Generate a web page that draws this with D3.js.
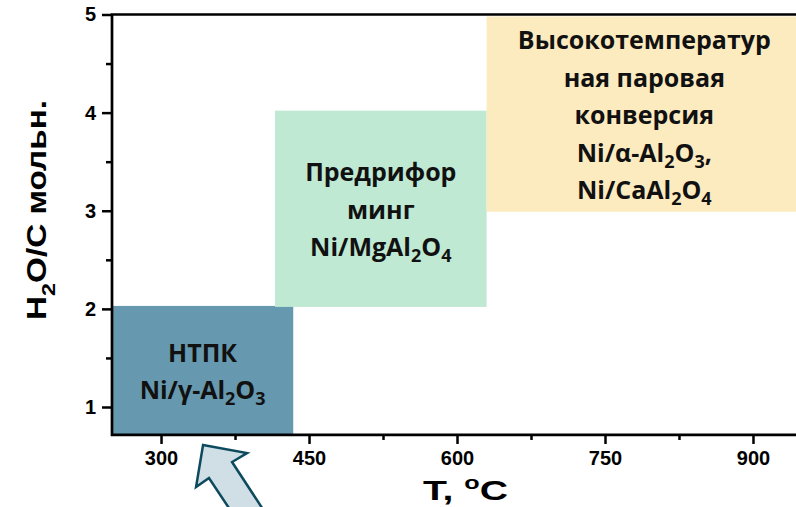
<!DOCTYPE html>
<html>
<head>
<meta charset="utf-8">
<script src="https://cdn.jsdelivr.net/npm/d3@7"></script>
<style>
  body { margin: 0; background: #fff; }
  svg { display: block; }
</style>
</head>
<body>
<div id="grafico"></div>
<script>
// Области процессов: T (°C) и H2O/C (мольн.)
const nomes   = ["НТПК", "Предриформинг", "ВТПК"];
const t_min   = [250.3, 415.5, 630];
const t_max   = [434, 630, 943.6];
const r_min   = [0.715, 2.02, 2.99];
const r_max   = [2.03, 4.02, 4.98];
const cores   = ["#6699AF", "#BFE9D2", "#FDEBC0"];
// подписи, "_" = нижний индекс
const rotulos = [
  ["НТПК", "Ni/γ-Al_2O_3"],
  ["Предрифор", "минг", "Ni/MgAl_2O_4"],
  ["Высокотемператур", "ная паровая", "конверсия", "Ni/α-Al_2O_3,", "Ni/CaAl_2O_4"]
];

// Деления осей
const ticks_x = [300, 450, 600, 750, 900];
const minor_x = [375, 525, 675, 825];
const ticks_y = [1, 2, 3, 4, 5];
const minor_y = [1.5, 2.5, 3.5, 4.5];

// Стрелка (в координатах графика)
const seta_t = [342.6, 387.2, 372.0, 410.5, 377.0, 348.6, 335.5];
const seta_r = [0.612, 0.531, 0.439, -0.153, -0.153, 0.276, 0.184];

const W = 796, H = 507;

const svg = d3.select("#grafico").append("svg")
  .attr("width", W)
  .attr("height", H);

// Escalas
const x = d3.scaleLinear().domain([250.3, 943.6]).range([112, 796]);
const y = d3.scaleLinear().domain([1, 5]).range([407, 14.5]);
const y_base = y(0.715);

// Retângulos
nomes.forEach((n, i) => {
  svg.append("rect")
    .attr("x", x(t_min[i]))
    .attr("y", y(r_max[i]))
    .attr("width", x(t_max[i]) - x(t_min[i]))
    .attr("height", y(r_min[i]) - y(r_max[i]))
    .attr("fill", cores[i]);
});

// Textos nas caixas
const lh = 37.5;
nomes.forEach((n, i) => {
  const cx = (x(t_min[i]) + x(t_max[i])) / 2 + (i === 2 ? 3 : 0);
  const cy = (y(r_min[i]) + y(r_max[i])) / 2;
  const linhas = rotulos[i];
  linhas.forEach((l, k) => {
    const t = svg.append("text")
      .attr("x", cx)
      .attr("y", cy + (k - (linhas.length - 1) / 2) * lh + 10)
      .attr("text-anchor", "middle")
      .style("font-family", "'Open Sans', sans-serif")
      .style("font-weight", "bold")
      .style("font-size", "25px")
      .attr("fill", "#111");
    const partes = l.split(/_(\d)/);
    let desce = 0;
    partes.forEach((p, j) => {
      if (p === "") return;
      if (j % 2 === 1) {
        t.append("tspan").attr("dy", 6 - desce).style("font-size", "18px").text(p);
        desce = 6;
      } else {
        t.append("tspan").attr("dy", -desce).text(p);
        desce = 0;
      }
    });
  });
});

// Eixos
svg.append("g")
  .attr("transform", `translate(0, ${y_base})`)
  .call(d3.axisBottom(x).tickValues(ticks_x).tickSize(9).tickSizeOuter(0).tickPadding(7));
svg.append("g")
  .attr("transform", `translate(0, ${y_base})`)
  .call(d3.axisBottom(x).tickValues(minor_x).tickSize(5).tickSizeOuter(0).tickFormat(""));

svg.append("g")
  .attr("transform", `translate(112, 0)`)
  .call(d3.axisLeft(y).tickValues(ticks_y).tickSize(10).tickSizeOuter(0).tickPadding(6).tickFormat(d3.format("d")));
svg.append("g")
  .attr("transform", `translate(112, 0)`)
  .call(d3.axisLeft(y).tickValues(minor_y).tickSize(6).tickSizeOuter(0).tickFormat(""));

svg.selectAll(".domain").remove();
svg.selectAll(".tick line").attr("stroke", "#000").attr("stroke-width", 2.5);
svg.selectAll(".tick text")
  .style("font-family", "'Liberation Sans', Arial, sans-serif")
  .style("font-weight", "bold")
  .style("font-size", "20px")
  .attr("fill", "#000");

// Linhas do quadro (esquerda, baixo, topo)
svg.append("path")
  .attr("d", `M796,${y(5)} H112 V${y_base} H796`)
  .attr("fill", "none")
  .attr("stroke", "#000")
  .attr("stroke-width", 2.7);

// Título do eixo x
const tx = svg.append("text")
  .attr("x", 423)
  .attr("y", 500)
  .attr("textLength", 85)
  .attr("lengthAdjust", "spacingAndGlyphs")
  .style("font-family", "'Liberation Sans', Arial, sans-serif")
  .style("font-weight", "bold")
  .style("font-size", "28px");
tx.append("tspan").text("T, ");
tx.append("tspan").attr("dy", -11).style("font-size", "18px").text("o");
tx.append("tspan").attr("dy", 11).text("C");

// Título do eixo y
const ty = svg.append("text")
  .attr("transform", "translate(46, 320) rotate(-90)")
  .attr("textLength", 220)
  .attr("lengthAdjust", "spacingAndGlyphs")
  .style("font-family", "'Liberation Sans', Arial, sans-serif")
  .style("font-weight", "bold")
  .style("font-size", "27px");
ty.append("tspan").text("H");
ty.append("tspan").attr("dy", 9).style("font-size", "19px").text("2");
ty.append("tspan").attr("dy", -9).text("O/C мольн.");

// Seta
const seta = d3.line()
  .x(d => x(d[0]))
  .y(d => y(d[1]));
svg.append("path")
  .datum(seta_t.map((t, i) => [t, seta_r[i]]))
  .attr("d", d => seta(d) + "Z")
  .attr("fill", "#CFDFE5")
  .attr("stroke", "#0D4A5E")
  .attr("stroke-width", 2.5)
  .attr("stroke-linejoin", "miter");
</script>
</body>
</html>
